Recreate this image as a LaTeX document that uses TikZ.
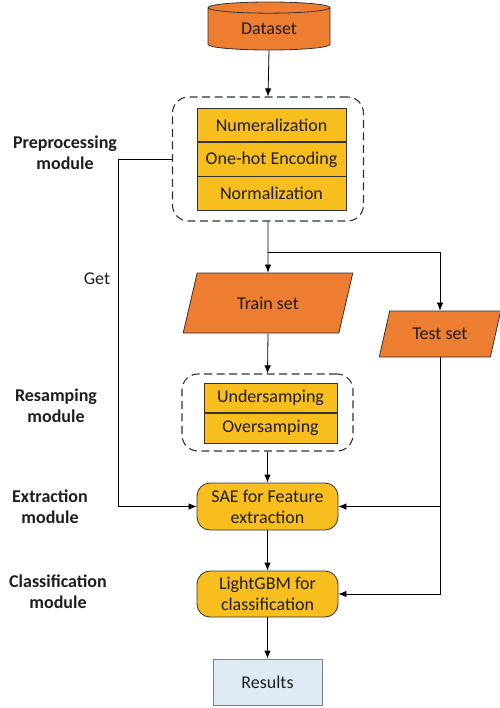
\documentclass[tikz,border=0pt]{standalone}
\usepackage{fontspec}
\setmainfont{Carlito}
\usetikzlibrary{positioning, arrows.meta, shapes.geometric}
\definecolor{dataorange}{HTML}{ED7D31}
\definecolor{stepyellow}{HTML}{F8BE1E}
\definecolor{resultblue}{HTML}{DEEAF4}
\definecolor{textgray}{HTML}{1E1E1E}

\begin{document}
\begin{tikzpicture}[x=1pt, y=-1pt, ->, >={Latex[length=8pt, width=6.5pt]}, line width=0.8pt,
    font=\fontsize{18}{21}\selectfont, text=textgray,
    data/.style={cylinder, shape border rotate=90, aspect=0.2, draw=black!80,
      fill=dataorange, minimum width=122, minimum height=48, inner sep=0},
    dataset/.style={trapezium, trapezium left angle=64, trapezium right angle=116,
      trapezium stretches=true, draw=black!80, fill=dataorange, inner sep=0},
    stepbox/.style={rectangle, draw=black!80, fill=stepyellow, inner sep=0},
    module/.style={rectangle, rounded corners=13, draw=black!80, fill=stepyellow,
      minimum width=141, minimum height=47, align=center, inner sep=0},
    group/.style={draw=black!80, dash pattern=on 8pt off 4.5pt, rounded corners=16,
      line width=1.1pt},
    result/.style={rectangle, draw=gray, fill=resultblue, minimum width=109,
      minimum height=46},
    stage/.style={font=\bfseries\fontsize{18}{21}\selectfont, align=center}]
  \useasboundingbox (0,0) rectangle (499,708);

  % Input data
  \node[data] (dataset) at (269,29) {Dataset};

  % Preprocessing module
  \node[group, minimum width=191, minimum height=124] (pre) at (268,159) {};
  \node[stepbox, minimum width=149, minimum height=33.5] (num) at (271.5,125) {Numeralization};
  \node[stepbox, minimum width=149, minimum height=33.5, below=0pt of num] (onehot) {One-hot Encoding};
  \node[stepbox, minimum width=149, minimum height=33.5, below=0pt of onehot] (norm) {Normalization};

  % Train and test split
  \node[dataset, minimum width=170, minimum height=60] (train) at (268,303) {Train set};
  \node[dataset, minimum width=122, minimum height=46] (test) at (440,334) {Test set};
  \coordinate (split) at (268,252);

  % Resampling module
  \node[group, minimum width=171, minimum height=77] (res) at (267.5,412.5) {};
  \node[stepbox, minimum width=133, minimum height=29.5] (under) at (270.5,398) {Undersamping};
  \node[stepbox, minimum width=133, minimum height=29.5, below=0pt of under] (over) {Oversamping};

  % Extraction, classification and results
  \node[module] (sae) at (267.5,506.5) {SAE for Feature\\extraction};
  \node[module, minimum height=46] (lgbm) at (267.5,594) {LightGBM for\\classification};
  \node[result] (results) at (267.5,682) {Results};

  % Stage labels
  \node[stage] (prelabel) at (65,153) {Preprocessing\\module};
  \node[stage] (reslabel) at (56,406) {Resamping\\module};
  \node[stage] (extlabel) at (50,507) {Extraction\\module};
  \node[stage] (clslabel) at (58,592) {Classification\\module};
  \node (get) at (97,279) {Get};

  % Connectors
  \draw (dataset.south) -- (pre.north);
  \draw (pre.south) -- (train.north);
  \draw (split) -| (test.north);
  \draw (train.south) -- (res.north);
  \draw (res.south) -- (sae.north);
  \draw (sae.south) -- (lgbm.north);
  \draw (lgbm.south) -- (results.north);
  \draw (pre.west) -- ++(-54,0) |- (sae.west);
  \draw (test.south) |- (lgbm.east);
  \draw (test.south |- sae.east) -- (sae.east);
\end{tikzpicture}
\end{document}
